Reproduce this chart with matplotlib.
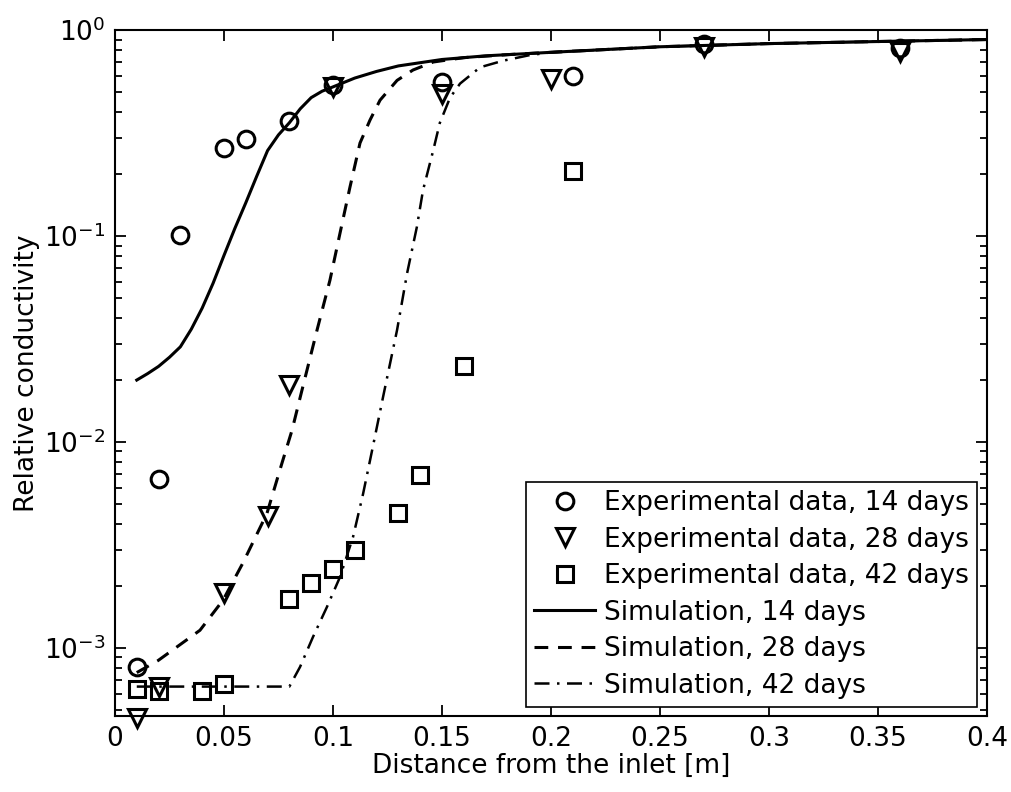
import matplotlib
matplotlib.use("Agg")
import matplotlib.pyplot as plt
from matplotlib.ticker import LogLocator, NullFormatter

plt.rcParams['font.family'] = ['DejaVu Sans']
plt.rcParams['mathtext.fontset'] = 'dejavusans'

# Experimental data
x14 = [0.01, 0.02, 0.03, 0.05, 0.06, 0.08, 0.10, 0.15, 0.21, 0.27, 0.36]
y14 = [8.1e-4, 6.6e-3, 0.101, 0.267, 0.296, 0.36, 0.54, 0.56, 0.60, 0.86, 0.82]

x28 = [0.01, 0.02, 0.05, 0.07, 0.08, 0.10, 0.15, 0.20, 0.27, 0.36]
y28 = [4.6e-4, 6.5e-4, 1.85e-3, 4.4e-3, 0.0189, 0.53, 0.49, 0.58, 0.83, 0.78]

x42 = [0.01, 0.02, 0.04, 0.05, 0.08, 0.09, 0.10, 0.11, 0.13, 0.14, 0.16, 0.21]
y42 = [6.3e-4, 6.2e-4, 6.2e-4, 6.7e-4, 1.73e-3, 2.07e-3, 2.42e-3, 2.99e-3,
       4.5e-3, 6.9e-3, 0.0234, 0.207]

# Simulations
sx14 = [0.01, 0.015, 0.02, 0.025, 0.03, 0.035, 0.04, 0.045, 0.05, 0.055, 0.06,
        0.065, 0.07, 0.075, 0.08, 0.085, 0.09, 0.095, 0.10, 0.11, 0.12, 0.13,
        0.15, 0.17, 0.20, 0.25, 0.30, 0.35, 0.40]
sy14 = [0.020, 0.0215, 0.0233, 0.0258, 0.029, 0.0353, 0.0447, 0.059, 0.0805,
        0.109, 0.145, 0.195, 0.26, 0.31, 0.355, 0.415, 0.47, 0.505, 0.53, 0.585,
        0.63, 0.67, 0.72, 0.75, 0.78, 0.83, 0.86, 0.88, 0.90]

sx28 = [0.01, 0.0198, 0.039, 0.0496, 0.0587, 0.0697, 0.0766, 0.0812, 0.0858,
        0.0927, 0.0986, 0.1032, 0.1078, 0.1124, 0.117, 0.1216, 0.1294, 0.1367,
        0.146, 0.16, 0.18, 0.20, 0.25, 0.30, 0.35, 0.40]
sy28 = [7.6e-4, 8.7e-4, 1.22e-3, 1.71e-3, 2.59e-3, 4.5e-3, 7.9e-3, 0.0114,
        0.0179, 0.035, 0.061, 0.103, 0.173, 0.283, 0.366, 0.457, 0.57, 0.64,
        0.70, 0.735, 0.76, 0.78, 0.83, 0.86, 0.88, 0.90]

sx42 = [0.01, 0.08, 0.0849, 0.0908, 0.0972, 0.1032, 0.1092, 0.1138, 0.1183,
        0.123, 0.1294, 0.134, 0.1385, 0.1413, 0.146, 0.149, 0.1537, 0.1583,
        0.1675, 0.178, 0.19, 0.20, 0.25, 0.30, 0.35, 0.40]
sy42 = [6.5e-4, 6.5e-4, 8.1e-4, 1.13e-3, 1.58e-3, 2.21e-3, 3.46e-3, 5.6e-3,
        9.5e-3, 0.0166, 0.035, 0.066, 0.111, 0.167, 0.261, 0.354, 0.47, 0.55,
        0.66, 0.71, 0.755, 0.78, 0.83, 0.86, 0.88, 0.90]

FS = 19

fig = plt.figure(figsize=(10.12, 7.92), dpi=100)
ax = fig.add_axes([0.1136, 0.096, 0.8617, 0.866])

mk = dict(linestyle='none', markerfacecolor='none', markeredgecolor='black',
          markeredgewidth=2.2, clip_on=False)
ax.plot(x14, y14, marker='o', markersize=12, label='Experimental data, 14 days', **mk)
ax.plot(x28, y28, marker='v', markersize=13, label='Experimental data, 28 days', **mk)
ax.plot(x42, y42, marker='s', markersize=11, label='Experimental data, 42 days', **mk)
ax.plot(sx14, sy14, color='black', lw=2.2, linestyle='-', label='Simulation, 14 days')
ax.plot(sx28, sy28, color='black', lw=2.2, linestyle=(0, (4.5, 3.2)), label='Simulation, 28 days')
ax.plot(sx42, sy42, color='black', lw=1.8, linestyle=(0, (6, 3, 1, 3)), label='Simulation, 42 days')

ax.set_yscale('log')
ax.set_xlim(0, 0.4)
ax.set_ylim(4.68e-4, 1.0)
ax.set_xticks([0, 0.05, 0.1, 0.15, 0.2, 0.25, 0.3, 0.35, 0.4])
ax.set_xticklabels(['0', '0.05', '0.1', '0.15', '0.2', '0.25', '0.3', '0.35', '0.4'])
ax.yaxis.set_major_locator(LogLocator(base=10, numticks=10))
ax.yaxis.set_minor_locator(LogLocator(base=10, subs=range(2, 10), numticks=20))
ax.yaxis.set_minor_formatter(NullFormatter())

ax.tick_params(which='both', direction='in', top=True, right=True, labelsize=FS,
               color='black', width=1.3, pad=7)
ax.tick_params(which='major', length=8)
ax.tick_params(which='minor', length=5)
for s in ax.spines.values():
    s.set_linewidth(1.5)

ax.set_xlabel('Distance from the inlet [m]', fontsize=FS, labelpad=1)
ax.set_ylabel('Relative conductivity', fontsize=FS, labelpad=3)

leg = ax.legend(loc='lower right', bbox_to_anchor=(0.9885, 0.0136), fontsize=FS,
                fancybox=False, framealpha=1, edgecolor='black', handlelength=2.3,
                handletextpad=0.35, labelspacing=0.4, borderpad=0.3, borderaxespad=0)
leg.get_frame().set_linewidth(1.2)

fig.savefig('out.png', dpi=100, facecolor='white')
